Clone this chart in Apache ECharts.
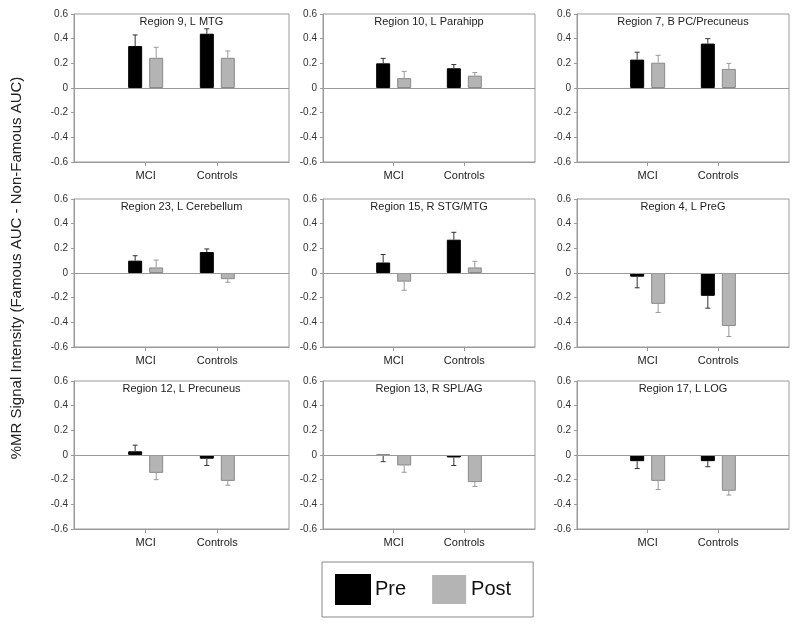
<!DOCTYPE html>
<html>
<head>
<meta charset="utf-8">
<script src="https://cdn.jsdelivr.net/npm/echarts@6/dist/echarts.min.js"></script>
<style>
  html, body { margin: 0; padding: 0; background: #fff; }
  #chart { width: 800px; height: 626px; }
</style>
</head>
<body>
<div id="chart"></div>
<script>
// ---- data ----
const regions = [
  'Region 9, L MTG', 'Region 10, L Parahipp', 'Region 7, B PC/Precuneus',
  'Region 23, L Cerebellum', 'Region 15, R STG/MTG', 'Region 4, L PreG',
  'Region 12, L Precuneus', 'Region 13, R SPL/AG', 'Region 17, L LOG'
];
const groups = ['MCI', 'Controls'];
const seriesNames = ['Pre', 'Post'];
const preValues = [
  [0.34, 0.44], [0.20, 0.16], [0.23, 0.36],
  [0.10, 0.17], [0.085, 0.27], [-0.03, -0.185],
  [0.03, -0.03], [-0.004, -0.02], [-0.05, -0.05]
];
const preErrors = [
  [0.09, 0.04], [0.04, 0.03], [0.06, 0.04],
  [0.04, 0.025], [0.065, 0.06], [0.09, 0.10],
  [0.05, 0.055], [0.05, 0.065], [0.06, 0.045]
];
const postValues = [
  [0.245, 0.245], [0.08, 0.10], [0.205, 0.155],
  [0.045, -0.05], [-0.07, 0.045], [-0.25, -0.43],
  [-0.145, -0.21], [-0.085, -0.22], [-0.21, -0.29]
];
const postErrors = [
  [0.085, 0.055], [0.055, 0.025], [0.06, 0.045],
  [0.06, 0.025], [0.07, 0.05], [0.07, 0.085],
  [0.055, 0.035], [0.055, 0.035], [0.07, 0.035]
];
const yMin = -0.6, yMax = 0.6, yStep = 0.2;
const yTitle = '%MR Signal Intensity (Famous AUC - Non-Famous AUC)';

// ---- layout / style ----
const FONT = 'Liberation Sans, Arial, sans-serif';
const colLefts = [74, 323, 577];
const colWidths = [215, 212, 212];
const rowTops = [14, 199, 381];
const gridH = 148;
const BAR_W = 14, BAR_GAP = 7;
const PRE_COLOR = '#000000', POST_COLOR = '#b4b4b4', POST_BORDER = '#8a8a8a';
const AXIS_COLOR = '#9a9a9a';

// categories padded with empty ends so groups sit at 1/3 and 2/3
const cats = [''].concat(groups, ['']);

const grids = [], xAxes = [], yAxes = [], series = [], titles = [];

regions.forEach((name, i) => {
  const r = Math.floor(i / 3), c = i % 3;
  grids.push({
    left: colLefts[c], top: rowTops[r], width: colWidths[c], height: gridH,
    show: true, borderColor: AXIS_COLOR, borderWidth: 1, containLabel: false
  });
  titles.push({
    text: name,
    left: colLefts[c] + colWidths[c] / 2,
    top: rowTops[r] + 2,
    padding: 0,
    textAlign: 'center',
    textStyle: { fontFamily: FONT, fontSize: 11, fontWeight: 'normal', color: '#222' }
  });
  xAxes.push({
    gridIndex: i, type: 'category', data: cats, boundaryGap: false,
    axisLine: { show: true, onZero: false, lineStyle: { color: AXIS_COLOR } },
    axisTick: { show: true, length: 4, inside: false,
      interval: (idx, v) => v !== '', lineStyle: { color: AXIS_COLOR } },
    axisLabel: { interval: 0, fontFamily: FONT, fontSize: 11, color: '#222', margin: 8 },
    splitLine: { show: false }
  });
  yAxes.push({
    gridIndex: i, type: 'value', min: yMin, max: yMax, interval: yStep,
    axisLine: { show: true, lineStyle: { color: AXIS_COLOR } },
    axisTick: { show: true, length: 3, lineStyle: { color: AXIS_COLOR } },
    axisLabel: { fontFamily: FONT, fontSize: 10, color: '#333', margin: 6,
      formatter: v => String(Math.round(v * 10) / 10) },
    splitLine: { show: false }
  });

  const preData = ['-'].concat(preValues[i], ['-']);
  const postData = ['-'].concat(postValues[i], ['-']);

  series.push({
    name: seriesNames[0], type: 'bar', xAxisIndex: i, yAxisIndex: i,
    data: preData, barWidth: BAR_W, barGap: (BAR_GAP / BAR_W * 100) + '%',
    itemStyle: { color: PRE_COLOR, borderColor: '#000', borderWidth: 1 },
    animation: false,
    markLine: {
      silent: true, symbol: 'none', animation: false,
      label: { show: false },
      lineStyle: { color: AXIS_COLOR, type: 'solid', width: 1 },
      data: [{ yAxis: 0 }]
    }
  });
  series.push({
    name: seriesNames[1], type: 'bar', xAxisIndex: i, yAxisIndex: i,
    data: postData, barWidth: BAR_W,
    itemStyle: { color: POST_COLOR, borderColor: POST_BORDER, borderWidth: 1 },
    animation: false
  });

  // error bars (one direction, away from zero)
  const errSets = [
    { vals: preValues[i], errs: preErrors[i], off: -(BAR_W + BAR_GAP) / 2, color: '#333' },
    { vals: postValues[i], errs: postErrors[i], off: (BAR_W + BAR_GAP) / 2, color: '#999' }
  ];
  errSets.forEach(set => {
    const d = set.vals.map((v, k) => [k + 1, v, set.errs[k]]);
    series.push({
      type: 'custom', xAxisIndex: i, yAxisIndex: i, data: d, silent: true,
      animation: false, z: 3,
      renderItem: (params, api) => {
        const x = api.value(0), v = api.value(1), e = api.value(2);
        const sign = v < 0 ? -1 : 1;
        const p0 = api.coord([x, v]);
        const p1 = api.coord([x, v + sign * e]);
        const cx = p0[0] + set.off;
        const st = { stroke: set.color, lineWidth: 1 };
        return {
          type: 'group',
          children: [
            { type: 'line', shape: { x1: cx, y1: p0[1], x2: cx, y2: p1[1] }, style: st },
            { type: 'line', shape: { x1: cx - 2.5, y1: p1[1], x2: cx + 2.5, y2: p1[1] }, style: st }
          ]
        };
      }
    });
  });
});

const chart = echarts.init(document.getElementById('chart'), null, { renderer: 'canvas' });
chart.setOption({
  backgroundColor: '#ffffff',
  animation: false,
  textStyle: { fontFamily: FONT },
  title: titles,
  grid: grids,
  xAxis: xAxes,
  yAxis: yAxes,
  series: series,
  legend: {
    data: [
      { name: seriesNames[0] },
      { name: seriesNames[1], itemStyle: { borderWidth: 0 } }
    ],
    left: 322, top: 562,
    orient: 'horizontal',
    selectedMode: false,
    icon: 'rect',
    itemWidth: 34, itemHeight: 29, itemGap: 26,
    padding: [12, 22, 12, 13],
    borderColor: '#888', borderWidth: 1,
    textStyle: { fontFamily: FONT, fontSize: 20, color: '#111', padding: [0, 0, 0, 0] }
  },
  graphic: [{
    type: 'text',
    x: 17, y: 268,
    rotation: Math.PI / 2,
    style: {
      text: yTitle,
      fill: '#222',
      font: '15px ' + FONT,
      textAlign: 'center', textVerticalAlign: 'middle',
      align: 'center', verticalAlign: 'middle'
    }
  }]
});
</script>
</body>
</html>
